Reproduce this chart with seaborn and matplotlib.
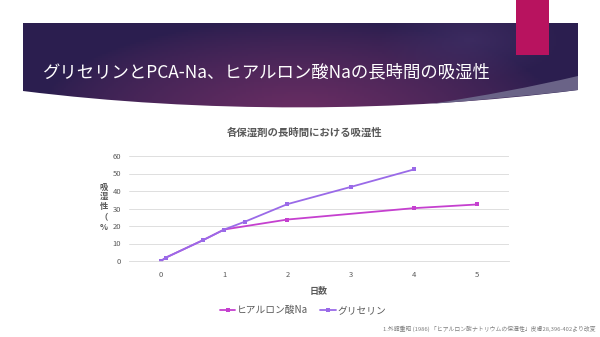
import numpy as np
import pandas as pd
import matplotlib
matplotlib.use("Agg")
import matplotlib.pyplot as plt
from matplotlib.path import Path
from matplotlib.patches import PathPatch, Rectangle
from matplotlib.lines import Line2D
import seaborn as sns

# ---- data ----
glycerin_days = [0, 0.08, 0.67, 1, 1.33, 2, 3, 4]
glycerin_vals = [0, 2, 12, 18, 22.5, 32.5, 42.3, 52.3]
hyaluronic_days = [0, 0.08, 0.67, 1, 2, 4, 5]
hyaluronic_vals = [0, 2, 12, 18, 23.7, 30.2, 32.3]
series_names = ["ヒアルロン酸Na", "グリセリン"]
x_ticks = [0, 1, 2, 3, 4, 5]
y_ticks = [0, 10, 20, 30, 40, 50, 60]

slide_title = "グリセリンとPCA-Na、ヒアルロン酸Naの長時間の吸湿性"
chart_title = "各保湿剤の長時間における吸湿性"
x_label = "日数"
y_label = "吸\n湿\n性\n（\n%"
footnote = "1.外舘重昭 (1986) 「ヒアルロン酸ナトリウムの保湿性」皮膚28,396-402より改変"

df = pd.concat([
    pd.DataFrame({"日数": hyaluronic_days, "吸湿性": hyaluronic_vals, "系列": series_names[0]}),
    pd.DataFrame({"日数": glycerin_days, "吸湿性": glycerin_vals, "系列": series_names[1]}),
], ignore_index=True)

sns.set_theme(style="white")
plt.rcParams["font.family"] = ["Noto Sans CJK JP", "DejaVu Sans"]

W, H = 600, 337
fig = plt.figure(figsize=(W / 100, H / 100), dpi=100)
fig.patch.set_facecolor("white")

# ---- slide background: banner and accent block ----
bg = fig.add_axes([0, 0, 1, 1])
bg.set_xlim(0, W)
bg.set_ylim(H, 0)
bg.axis("off")

# banner shape with a smooth bowed lower edge
verts = [(23, 23), (578, 23), (578, 90),
         (400, 113), (200, 113), (23, 91), (23, 23)]
codes = [Path.MOVETO, Path.LINETO, Path.LINETO,
         Path.CURVE4, Path.CURVE4, Path.CURVE4, Path.CLOSEPOLY]
banner_path = Path(verts, codes)

# gradient: dark navy edges, warmer magenta glow at lower middle
gx, gy = np.meshgrid(np.linspace(0, W, 300), np.linspace(0, 120, 60))
dark = np.array([0.17, 0.12, 0.31])
glow = np.array([0.42, 0.18, 0.39])
haze = np.array([0.28, 0.20, 0.42])
d1 = np.sqrt(((gx - 300) / 260) ** 2 + ((gy - 115) / 95) ** 2)
w1 = np.clip(1 - d1, 0, 1)[..., None] ** 0.8
d2 = np.sqrt(((gx - 470) / 90) ** 2 + ((gy - 40) / 40) ** 2)
w2 = np.clip(1 - d2, 0, 1)[..., None] * 0.6
img = dark * (1 - w1) + glow * w1
img = img * (1 - w2) + haze * w2
im = bg.imshow(img, extent=(0, W, 120, 0), aspect="auto", zorder=1)
patch = PathPatch(banner_path, facecolor="none", edgecolor="none")
bg.add_patch(patch)
im.set_clip_path(patch)

# thin light sliver along the lower right edge
stripe = Path([(578, 76), (578, 90), (500, 99), (430, 104),
               (510, 92), (578, 76)],
              [Path.MOVETO, Path.LINETO, Path.CURVE3, Path.CURVE3,
               Path.CURVE3, Path.CURVE3])
bg.add_patch(PathPatch(stripe, facecolor="#6a6387", edgecolor="none", zorder=2))

bg.add_patch(Rectangle((516, 0), 33, 55, facecolor="#b8135f", edgecolor="none", zorder=3))
bg.text(43, 72, slide_title, color="white", fontsize=12.5, va="center", ha="left", zorder=4)

bg.text(305, 133, chart_title, color="#595959", fontsize=7.5, fontweight="bold",
        ha="center", va="center")
bg.text(104, 207, y_label, color="#595959", fontsize=6, fontweight="bold",
        ha="center", va="center", linespacing=1.15)
bg.text(596, 329, footnote, color="#7f7f7f", fontsize=4.2, ha="right", va="center")

# ---- chart ----
x0 = 161 - 0.5 * 63.2
x1 = 161 + 5.5 * 63.2
y_top, y_bot = 156, 261
ax = fig.add_axes([x0 / W, 1 - y_bot / H, (x1 - x0) / W, (y_bot - y_top) / H])
ax.set_facecolor("none")

palette = {series_names[0]: "#c540cf", series_names[1]: "#9a6ae8"}
sns.lineplot(data=df, x="日数", y="吸湿性", hue="系列", palette=palette,
             estimator=None, sort=False, marker="s", markersize=2.2,
             markeredgewidth=0, linewidth=1.3, ax=ax, legend=False)

ax.set_xlim(-0.5, 5.5)
ax.set_ylim(0, 60)
ax.set_xticks(x_ticks)
ax.set_yticks(y_ticks)
ax.tick_params(axis="both", length=0, labelsize=5.5, labelcolor="#595959", pad=6)
ax.tick_params(axis="x", pad=7)
ax.yaxis.grid(True, color="#d9d9d9", linewidth=0.6)
ax.xaxis.grid(False)
for s in ["top", "right", "left"]:
    ax.spines[s].set_visible(False)
ax.spines["bottom"].set_color("#d9d9d9")
ax.spines["bottom"].set_linewidth(0.6)
ax.set_xlabel(x_label, fontsize=6.5, color="#595959", fontweight="bold", labelpad=6)
ax.set_ylabel("")

handles = [Line2D([0], [0], color=palette[n], linewidth=1.3, marker="s",
                  markersize=2.2, markeredgewidth=0) for n in series_names]
fig.legend(handles, series_names, loc="center", bbox_to_anchor=(303 / W, 1 - 310 / H),
           ncol=2, frameon=False, fontsize=7, labelcolor="#595959",
           handlelength=1.6, handletextpad=0.2, columnspacing=1.2)

fig.savefig("out.png", dpi=100, facecolor="white")
